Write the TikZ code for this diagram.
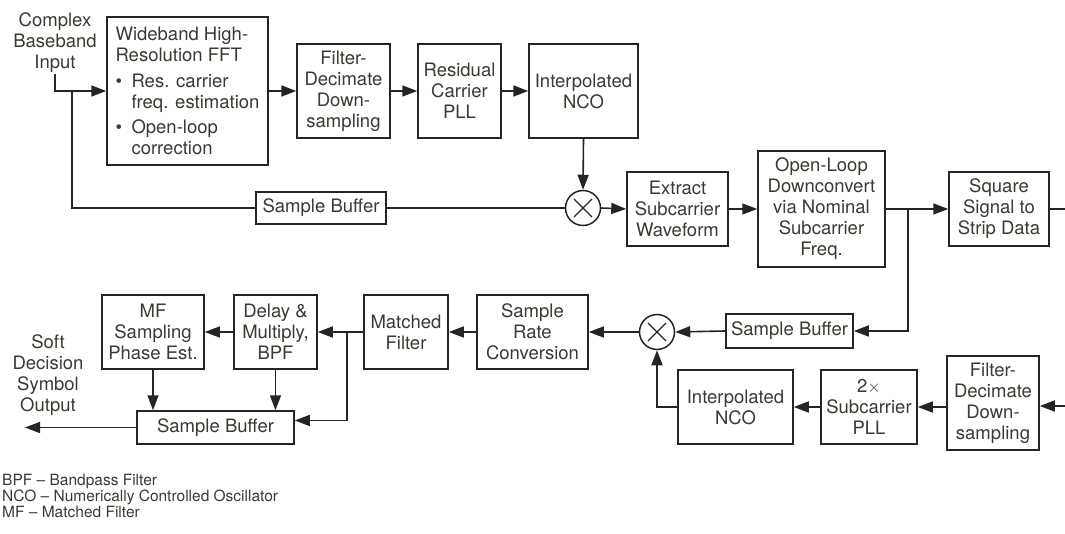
\documentclass[tikz,border=0pt]{standalone}
\usepackage{fontspec}
\setmainfont{TeX Gyre Heros}
\usepackage{tikz}
\usetikzlibrary{arrows.meta,calc}
\definecolor{inkline}{HTML}{262424}
\definecolor{inktext}{HTML}{3A3A32}
\newcommand{\mixcross}[1]{\draw[inkline,line width=1.3pt] ([shift={(-9,-9)}]#1.center) -- ([shift={(9,9)}]#1.center) ([shift={(-9,9)}]#1.center) -- ([shift={(9,-9)}]#1.center);}

\begin{document}
\begin{tikzpicture}[
  x=1pt,y=-1pt,
  every node/.style={font=\fontsize{18.5pt}{21pt}\selectfont,text=inktext,align=center,inner sep=1pt},
  blk/.style 2 args={draw=inkline,line width=1.5pt,fill=white,minimum width=#1,minimum height=#2},
  mix/.style={draw=inkline,line width=1.5pt,circle,minimum size=35pt,inner sep=0pt},
  con/.style={draw=inkline,line width=1.6pt},
  arr/.style={con,-{Triangle[length=15pt,width=11pt]}}
]
\useasboundingbox (0,0) rectangle (1065,534);

\node (inlbl) at (55,43) {Complex\\Baseband\\Input};
\node[blk={161}{148},align=left] (fft) at (187.5,91) {Wideband High-\\Resolution FFT\\[4.5pt]\makebox[16pt][l]{\textbullet}Res. carrier\\\hspace*{16pt}freq. estimation\\[4.5pt]\makebox[16pt][l]{\textbullet}Open-loop\\\hspace*{16pt}correction};
\node[blk={93}{94}] (fdtop) at (343.5,91) {Filter-\\Decimate\\Down-\\sampling};
\node[blk={83}{94}] (plltop) at (459.5,91) {Residual\\Carrier\\PLL};
\node[blk={109}{94}] (ncotop) at (583.5,91) {Interpolated\\NCO};

\node[blk={130}{32}] (sbtop) at (321,208) {Sample Buffer};
\node[mix] (mixtop) at (583,208) {};
\node[blk={101}{74}] (extract) at (677.5,209) {Extract\\Subcarrier\\Waveform};
\node[blk={127}{116}] (olconv) at (821.5,209) {Open-Loop\\Downconvert\\via Nominal\\Subcarrier\\Freq.};
\node[blk={100}{74}] (square) at (999,209) {Square\\Signal to\\Strip Data};

\node[blk={127}{34}] (sbmid) at (789.5,331) {Sample Buffer};
\node[mix] (mixlow) at (657,332) {};
\node[blk={111}{74}] (srconv) at (532.5,332) {Sample\\Rate\\Conversion};
\node[blk={84}{74}] (matched) at (406,332) {Matched\\Filter};
\node[blk={83}{74}] (delay) at (275.5,332) {Delay \&\\Multiply,\\BPF};
\node[blk={102}{74}] (mfphase) at (153,332) {MF\\Sampling\\Phase Est.};
\node[blk={157}{33}] (sblow) at (215.5,427.5) {Sample Buffer};
\node (outlbl) at (48,375) {Soft\\Decision\\Symbol\\Output};

\node[blk={115}{74}] (ncolow) at (735.5,407) {Interpolated\\NCO};
\node[blk={96}{74}] (plllow) at (869,407) {2$\times$\\Subcarrier\\PLL};
\node[blk={92}{94}] (fdlow) at (993,403) {Filter-\\Decimate\\Down-\\sampling};

\node[anchor=north west,align=left,font=\fontsize{15.5pt}{14.5pt}\selectfont] (legend) at (1,473) {BPF – Bandpass Filter\\NCO – Numerically Controlled Oscillator\\MF – Matched Filter};

\mixcross{mixtop}
\mixcross{mixlow}

\coordinate (tapin) at (72,91);
\coordinate (tapconv) at (908,209);
\coordinate (tapmf) at (347,332);
\coordinate (wrapout) at (1065,209);
\coordinate (wrapin) at (1065,406);
\coordinate (outend) at (25,427.5);

\draw[arr] (inlbl.south) |- (fft.west);
\draw[con] (tapin) |- (sbtop.west);
\draw[arr] (fft) -- (fdtop);
\draw[arr] (fdtop) -- (plltop);
\draw[arr] (plltop) -- (ncotop);
\draw[arr] (ncotop.south) -- (mixtop.north);
\draw[con] (sbtop.east) -- (mixtop.west);
\draw[arr] (mixtop.east) -- (extract.west);
\draw[arr] (extract) -- (olconv);
\draw[arr] (olconv.east) -- (square.west);
\draw[arr] (tapconv) |- (sbmid.east);
\draw[con] (square.east) -- (wrapout);

\draw[arr] (wrapin) -- (wrapin -| fdlow.east);
\draw[arr] (fdlow.west |- plllow) -- (plllow.east);
\draw[arr] (plllow) -- (ncolow);
\draw[arr] (ncolow.west) -| (mixlow.south);
\draw[arr] (sbmid.west) -- (mixlow.east);
\draw[arr] (mixlow.west) -- (srconv.east);
\draw[arr] (srconv) -- (matched);
\draw[arr] (matched) -- (delay);
\draw[arr] (tapmf) |- ([yshift=7pt]sblow.east);
\draw[arr] (delay) -- (mfphase);
\draw[arr] (mfphase.south) -- (mfphase.south |- sblow.north);
\draw[arr] (delay.south) -- (delay.south |- sblow.north);
\draw[arr] (sblow.west) -- (outend);
\end{tikzpicture}
\end{document}
